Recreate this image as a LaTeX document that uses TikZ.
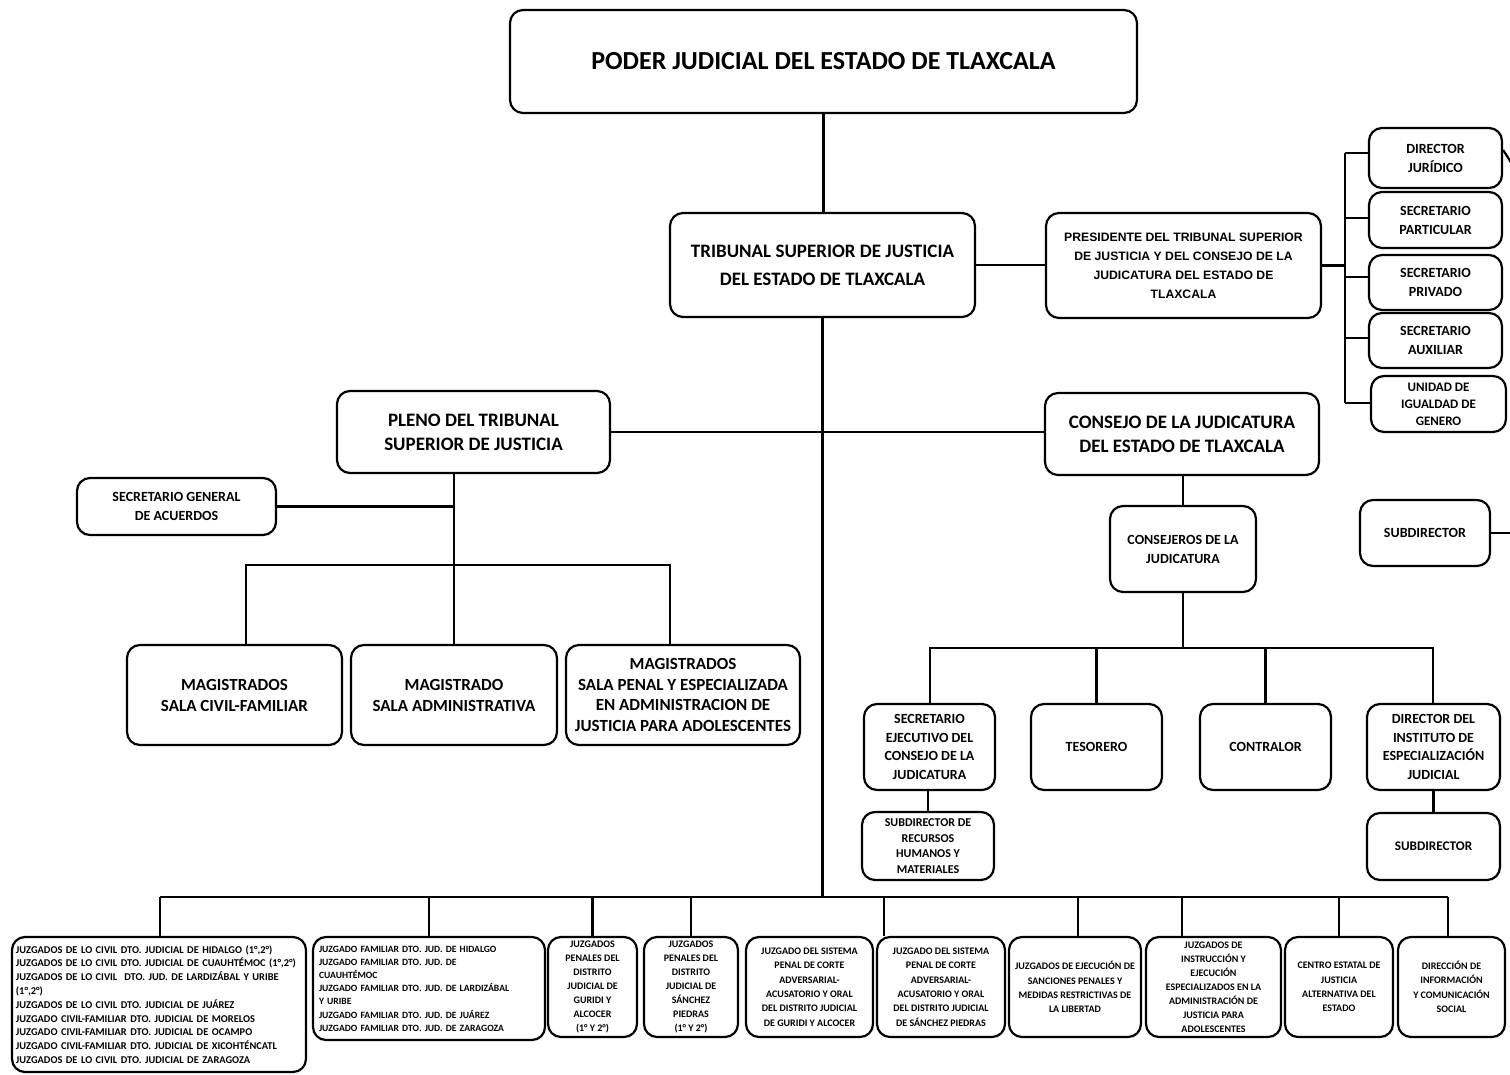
\documentclass[tikz,border=0pt]{standalone}
\usepackage{fontspec}
\setmainfont{Carlito}
\newfontfamily\arialf{Liberation Sans}
\usetikzlibrary{backgrounds,calc}
\begin{document}
\begin{tikzpicture}[x=0.5pt,y=-0.5pt,
  box/.style={draw, fill=white, rounded corners=6.5pt, line width=1.1pt, inner sep=1pt, align=center},
  ln/.style={line width=1.1pt},
  ft/.style n args={2}{font=\fontsize{#1}{#2}\selectfont\bfseries}]
\useasboundingbox (0,0) rectangle (1510,1075);

% top levels
\node[box, minimum width=313.5pt, minimum height=51.5pt, ft={13}{15}] (top) at (823.5,61.5) {PODER JUDICIAL DEL ESTADO DE TLAXCALA};
\node[box, minimum width=152.5pt, minimum height=52pt, ft={9.5}{14}] (trib) at (822.5,265) {TRIBUNAL SUPERIOR DE JUSTICIA\\DEL ESTADO DE TLAXCALA};
\node[box, minimum width=137.5pt, minimum height=52.5pt, font=\arialf\fontsize{6.1}{9.5}\selectfont\bfseries] (pres) at (1183.5,265.5) {PRESIDENTE DEL TRIBUNAL SUPERIOR\\DE JUSTICIA Y DEL CONSEJO DE LA\\JUDICATURA DEL ESTADO DE\\TLAXCALA};

% right column
\node[box, minimum width=66.5pt, minimum height=30pt, ft={7}{9.5}] (dj) at (1435.5,158) {DIRECTOR\\JURÍDICO};
\node[box, minimum width=66.5pt, minimum height=28pt, ft={7}{9.5}] (sp) at (1435.5,220) {SECRETARIO\\PARTICULAR};
\node[box, minimum width=66.5pt, minimum height=27.5pt, ft={7}{9.5}] (spr) at (1435.5,282.5) {SECRETARIO\\PRIVADO};
\node[box, minimum width=66.5pt, minimum height=27.5pt, ft={7}{9.5}] (sa) at (1435.5,340.5) {SECRETARIO\\AUXILIAR};
\node[box, minimum width=67.5pt, minimum height=28pt, ft={6.5}{8.5}] (uig) at (1438.5,404) {UNIDAD DE\\IGUALDAD DE\\GENERO};

% middle
\node[box, minimum width=136.5pt, minimum height=41pt, ft={9.5}{12}] (pleno) at (473.5,432) {PLENO DEL TRIBUNAL\\SUPERIOR DE JUSTICIA};
\node[box, minimum width=137pt, minimum height=41pt, ft={9.5}{12}] (consejo) at (1182,434) {CONSEJO DE LA JUDICATURA\\DEL ESTADO DE TLAXCALA};
\node[box, minimum width=99.5pt, minimum height=28.5pt, ft={7}{9.5}] (sga) at (176.5,506.5) {SECRETARIO GENERAL\\DE ACUERDOS};
\node[box, minimum width=107.5pt, minimum height=50pt, ft={8.5}{10.5}] (mcf) at (234.5,695) {MAGISTRADOS\\SALA CIVIL-FAMILIAR};
\node[box, minimum width=103pt, minimum height=50pt, ft={8.5}{10.5}] (msa) at (454,695) {MAGISTRADO\\SALA ADMINISTRATIVA};
\node[box, minimum width=117pt, minimum height=50pt, ft={8.5}{10.3}] (msp) at (683,695) {MAGISTRADOS\\SALA PENAL Y ESPECIALIZADA\\EN ADMINISTRACION DE\\JUSTICIA PARA ADOLESCENTES};

\node[box, minimum width=73pt, minimum height=43pt, ft={7}{9.5}] (cj) at (1183,549) {CONSEJEROS DE LA\\JUDICATURA};
\node[box, minimum width=65pt, minimum height=33pt, ft={7}{9}] (sub1) at (1425,533) {SUBDIRECTOR};

\node[box, minimum width=65.5pt, minimum height=43pt, ft={7}{9.3}] (sej) at (929.5,747) {SECRETARIO\\EJECUTIVO DEL\\CONSEJO DE LA\\JUDICATURA};
\node[box, minimum width=66pt, minimum height=34pt, ft={6}{7.7}] (srh) at (928,846) {SUBDIRECTOR DE\\RECURSOS\\HUMANOS Y\\MATERIALES};
\node[box, minimum width=65.5pt, minimum height=43pt, ft={7}{9}] (tes) at (1096.5,747) {TESORERO};
\node[box, minimum width=65.5pt, minimum height=43pt, ft={7}{9}] (con) at (1265.5,747) {CONTRALOR};
\node[box, minimum width=66.5pt, minimum height=43pt, ft={7}{9.3}] (die) at (1433.5,747) {DIRECTOR DEL\\INSTITUTO DE\\ESPECIALIZACIÓN\\JUDICIAL};
\node[box, minimum width=66.5pt, minimum height=33.5pt, ft={6.6}{8}] (sub2) at (1433.5,846.5) {SUBDIRECTOR};

% bottom row
\node[box, text width=143pt, inner xsep=2pt, minimum height=67.5pt, ft={5.2}{6.9}, align=left] (b1) at (159,1004.5) {JUZGADOS DE LO CIVIL DTO. JUDICIAL DE HIDALGO (1°,2°)\\JUZGADOS DE LO CIVIL DTO. JUDICIAL DE CUAUHTÉMOC (1°,2°)\\JUZGADOS DE LO CIVIL \ DTO. JUD. DE LARDIZÁBAL Y URIBE\\(1°,2°)\\JUZGADOS DE LO CIVIL DTO. JUDICIAL DE JUÁREZ\\JUZGADO CIVIL-FAMILIAR DTO. JUDICIAL DE MORELOS\\JUZGADO CIVIL-FAMILIAR DTO. JUDICIAL DE OCAMPO\\JUZGADO CIVIL-FAMILIAR DTO. JUDICIAL DE XICOHTÉNCATL\\JUZGADOS DE LO CIVIL DTO. JUDICIAL DE ZARAGOZA};
\node[box, text width=110pt, inner xsep=3pt, minimum height=51.5pt, ft={4.8}{6.6}, align=left] (b2) at (429,988.5) {JUZGADO FAMILIAR DTO. JUD. DE HIDALGO\\JUZGADO FAMILIAR DTO. JUD. DE\\CUAUHTÉMOC\\JUZGADO FAMILIAR DTO. JUD. DE LARDIZÁBAL\\Y URIBE\\JUZGADO FAMILIAR DTO. JUD. DE JUÁREZ\\JUZGADO FAMILIAR DTO. JUD. DE ZARAGOZA};
\node[box, minimum width=44.5pt, minimum height=50pt, ft={5}{7}] (b3) at (592.5,987) {JUZGADOS\\PENALES DEL\\DISTRITO\\JUDICIAL DE\\GURIDI Y\\ALCOCER\\(1° Y 2°)};
\node[box, minimum width=47pt, minimum height=50pt, ft={5}{7}] (b4) at (691,987) {JUZGADOS\\PENALES DEL\\DISTRITO\\JUDICIAL DE\\SÁNCHEZ\\PIEDRAS\\(1° Y 2°)};
\node[box, minimum width=63.5pt, minimum height=50pt, ft={5}{7.2}] (b5) at (809.5,987) {JUZGADO DEL SISTEMA\\PENAL DE CORTE\\ADVERSARIAL-\\ACUSATORIO Y ORAL\\DEL DISTRITO JUDICIAL\\DE GURIDI Y ALCOCER};
\node[box, minimum width=64pt, minimum height=50pt, ft={5}{7.2}] (b6) at (941,987) {JUZGADO DEL SISTEMA\\PENAL DE CORTE\\ADVERSARIAL-\\ACUSATORIO Y ORAL\\DEL DISTRITO JUDICIAL\\DE SÁNCHEZ PIEDRAS};
\node[box, minimum width=66pt, minimum height=50pt, ft={5}{7.2}] (b7) at (1075,987) {JUZGADOS DE EJECUCIÓN DE\\SANCIONES PENALES Y\\MEDIDAS RESTRICTIVAS DE\\LA LIBERTAD};
\node[box, minimum width=67.5pt, minimum height=50pt, ft={5}{7}] (b8) at (1213.5,987) {JUZGADOS DE\\INSTRUCCIÓN Y\\EJECUCIÓN\\ESPECIALIZADOS EN LA\\ADMINISTRACIÓN DE\\JUSTICIA PARA\\ADOLESCENTES};
\node[box, minimum width=54pt, minimum height=50pt, ft={5}{7.2}] (b9) at (1339,987) {CENTRO ESTATAL DE\\JUSTICIA\\ALTERNATIVA DEL\\ESTADO};
\node[box, minimum width=53.5pt, minimum height=50pt, ft={5}{7.2}] (b10) at (1451.5,987) {DIRECCIÓN DE\\INFORMACIÓN\\Y COMUNICACIÓN\\SOCIAL};

% coordinates
\coordinate (bus) at (822,897);
\coordinate (d1) at (160,897);
\coordinate (d6) at (884,897);
\coordinate (d7) at (1078,897);
\coordinate (d8) at (1182,897);
\coordinate (d10) at (1448,897);
\coordinate (k1) at (1345,153);
\coordinate (k2) at (1345,218);
\coordinate (k3) at (1345,277);
\coordinate (k4) at (1345,338);
\coordinate (k5) at (1345,403);
\coordinate (h1) at (246,565);
\coordinate (h2) at (670,565);
\coordinate (c1) at (930,648);
\coordinate (c2) at (1433,648);
\coordinate (e1) at (1514,167);
\coordinate (e2) at (1514,533);

\begin{pgfonlayer}{background}
\fill[white] (0,0) rectangle (1510,1075);
\draw[ln] (top.south) -- (top.south |- trib.north);
\draw[ln] (trib.south) -- (trib.south |- bus);
\draw[ln] (trib.east) -- (trib.east -| pres.west);
\draw[ln] (pres.east) -- (pres.east -| k1);
\draw[ln] (k1) -- (k5);
\draw[ln] (k1) -- (k1 -| dj.west);
\draw[ln] (k2) -- (k2 -| sp.west);
\draw[ln] (k3) -- (k3 -| spr.west);
\draw[ln] (k4) -- (k4 -| sa.west);
\draw[ln] (k5) -- (k5 -| uig.west);
\draw[ln] ($(dj.east)+(0,-8)$) -- (e1);
\draw[ln] (sub1.east) -- (e2);
\draw[ln] (pleno.east) -- (pleno.east -| consejo.west);
\draw[ln] (msa.north |- pleno.south) -- (msa.north);
\draw[ln] (sga.east) -- (sga.east -| msa.north);
\draw[ln] (mcf.north -| h1) -- (h1) -- (h2) -- (h2 |- msp.north);
\draw[ln] (cj.north |- consejo.south) -- (cj.north);
\draw[ln] (cj.south) -- (cj.south |- c1);
\draw[ln] (sej.north -| c1) -- (c1) -- (c2) -- (c2 |- die.north);
\draw[ln] (tes.north) -- (tes.north |- c1);
\draw[ln] (con.north) -- (con.north |- c1);
\draw[ln] (sej.south -| srh.north) -- (srh.north);
\draw[ln] (die.south) -- (sub2.north);
\draw[ln] (d1) -- (d10);
\draw[ln] (b1.north -| d1) -- (d1);
\draw[ln] (b2.north) -- (b2.north |- bus);
\draw[ln] (b3.north) -- (b3.north |- bus);
\draw[ln] (b4.north) -- (b4.north |- bus);
\draw[ln] (b6.north -| d6) -- (d6);
\draw[ln] (b7.north -| d7) -- (d7);
\draw[ln] (b8.north -| d8) -- (d8);
\draw[ln] (b9.north) -- (b9.north |- bus);
\draw[ln] (b10.north -| d10) -- (d10);
\end{pgfonlayer}
\end{tikzpicture}
\end{document}
